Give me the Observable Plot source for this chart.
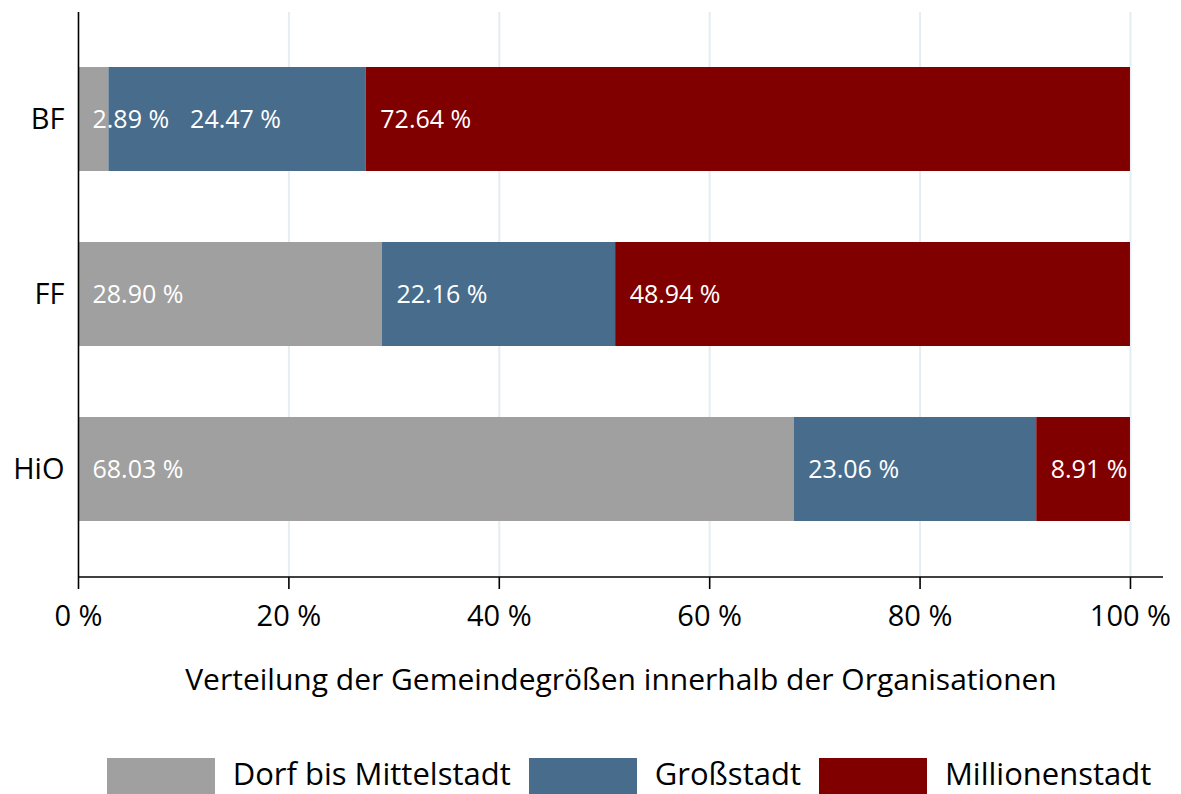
<!DOCTYPE html>
<html><head><meta charset="utf-8">
<script src="https://cdn.jsdelivr.net/npm/d3@7"></script>
<script src="https://cdn.jsdelivr.net/npm/@observablehq/plot@0.6"></script>
<style>
body{margin:0;background:#fff;font-family:"Open Sans",sans-serif;overflow:hidden;}
#legend{display:flex;justify-content:center;align-items:flex-start;margin-top:48px;margin-left:77px;height:36px;}
.item{display:flex;align-items:flex-start;margin:0 9px;}
.sw{width:108px;height:36px;margin-right:18px;}
.lt{font-size:31px;line-height:26px;margin-top:2px;color:#000;white-space:nowrap;}
</style></head><body><div id="chart"></div><div id="legend"></div>
<script>
const organisations = ["BF", "FF", "HiO"];
const categories = ["Dorf bis Mittelstadt", "Großstadt", "Millionenstadt"];
const colors = ["#a0a0a0", "#486c8c", "#800000"];
const dorf = [2.89, 28.90, 68.03];
const gross = [24.47, 22.16, 23.06];
const million = [72.64, 48.94, 8.91];
const xTicks = [0, 20, 40, 60, 80, 100];
const gridTicks = [20, 40, 60, 80, 100];
const xLabel = "Verteilung der Gemeindegrößen innerhalb der Organisationen";

const W = 1181, H = 710, mL = 78, mR = 18, mT = 12, mB = 133;
const xDomain = [0, 103.14];
const series = [dorf, gross, million];

const rows = [];
organisations.forEach((org, i) => {
  let start = 0;
  categories.forEach((cat, j) => {
    const v = series[j][i];
    rows.push({org, cat, x1: start, x2: start + v, value: v});
    start += v;
  });
});

// label positions: start of segment + padding, avoid overlap with previous label
const xs = Plot.scale({x: {domain: xDomain, range: [mL, W - mR]}});
const ctx = document.createElement("canvas").getContext("2d");
ctx.font = '25px "Open Sans"';
const labels = [];
organisations.forEach(org => {
  let prevEnd = -Infinity;
  rows.filter(r => r.org === org).forEach(r => {
    const text = r.value.toFixed(2) + " %";
    const px = Math.max(xs.apply(r.x1) + 14, prevEnd + 21);
    prevEnd = px + ctx.measureText(text).width;
    labels.push({org, lx: xs.invert(px), text});
  });
});

const chart = Plot.plot({
  width: W, height: H,
  marginLeft: mL, marginRight: mR, marginTop: mT, marginBottom: mB,
  style: {fontFamily: '"Open Sans", sans-serif', background: "white", color: "black"},
  x: {domain: xDomain},
  y: {domain: organisations, paddingInner: 0.403, paddingOuter: 0.307},
  color: {domain: categories, range: colors},
  marks: [
    Plot.gridX(gridTicks, {stroke: "#e4edf1", strokeOpacity: 1, strokeWidth: 2}),
    Plot.barX(rows, {x1: "x1", x2: "x2", y: "org", fill: "cat", inset: 0}),
    Plot.text(labels, {x: "lx", y: "org", text: "text", fill: "white", fontSize: 25, textAnchor: "start"}),
    Plot.ruleX([0], {stroke: "black", strokeWidth: 1.6}),
    (index, scales, values, dims) => {
      const l = document.createElementNS("http://www.w3.org/2000/svg", "line");
      l.setAttribute("x1", dims.marginLeft);
      l.setAttribute("x2", dims.width - dims.marginRight);
      l.setAttribute("y1", dims.height - dims.marginBottom);
      l.setAttribute("y2", dims.height - dims.marginBottom);
      l.setAttribute("stroke", "black");
      l.setAttribute("stroke-width", 1.6);
      return l;
    },
    Plot.axisX(xTicks, {tickFormat: d => d + " %", tickSize: 12, tickPadding: 16, fontSize: 29, strokeWidth: 1.6, label: null}),
    Plot.axisY({tickSize: 0, tickPadding: 14, fontSize: 29, label: null}),
    Plot.text([xLabel], {frameAnchor: "bottom", dy: 103, fontSize: 30, lineAnchor: "middle", fill: "black"})
  ]
});
document.getElementById("chart").appendChild(chart);

const legend = document.getElementById("legend");
categories.forEach((c, i) => {
  const it = document.createElement("div"); it.className = "item";
  const sw = document.createElement("div"); sw.className = "sw"; sw.style.background = colors[i];
  const t = document.createElement("div"); t.className = "lt"; t.textContent = c;
  it.appendChild(sw); it.appendChild(t); legend.appendChild(it);
});
</script></body></html>
